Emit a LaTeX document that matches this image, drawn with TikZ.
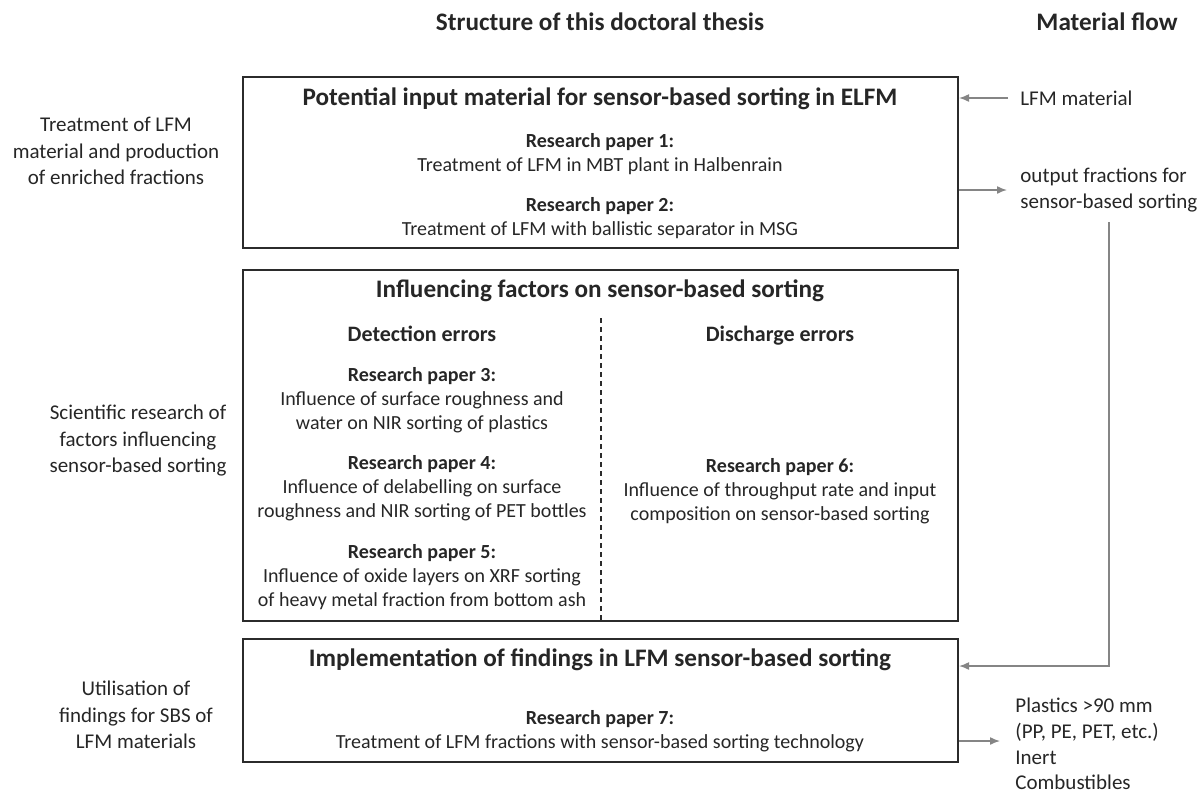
\documentclass[tikz,border=0pt]{standalone}
\usepackage{fontspec}
\setmainfont{Carlito}
\usepackage{tikz}
\usetikzlibrary{arrows.meta,positioning}
\definecolor{ink}{HTML}{262626}
\definecolor{frame}{HTML}{2B2B2B}
\definecolor{flowgray}{HTML}{858585}
\newcommand{\rp}[1]{\textbf{Research paper #1:}}

\begin{document}
\begin{tikzpicture}[x=0.5pt,y=-0.5pt,text=ink,
  stage/.style={draw=frame,line width=1pt,minimum width=357.5pt,inner sep=0pt},
  ttl/.style={font=\bfseries\fontsize{12.6}{15}\selectfont,inner sep=0pt,
              text height=.75em,text depth=.22em},
  sub/.style={font=\bfseries\fontsize{11}{13}\selectfont,inner sep=0pt,
              text height=.75em,text depth=.22em},
  paper/.style={font=\fontsize{10}{12}\selectfont,align=center,inner sep=0pt},
  side/.style={font=\fontsize{10.5}{13.25}\selectfont,align=center,inner sep=0pt},
  mat/.style={font=\fontsize{10.5}{12.9}\selectfont,align=left,anchor=west,inner sep=0pt},
  flow/.style={-{Latex[length=5pt,width=4pt]},flowgray,line width=0.75pt}]
  \useasboundingbox (0,0) rectangle (1204,793);
  \node[ttl] (thesis) at (600,25) {Structure of this doctoral thesis};
  \node[ttl] (mflow) at (1107,25) {Material flow};
  % the three stages
  \node[stage,minimum height=85.5pt] (inp) at (600.5,162.5) {};
  \node[stage,minimum height=175.5pt] (fac) at (600.5,445.5) {};
  \node[stage,minimum height=61.5pt] (impl) at (600.5,700.5) {};
  \node[ttl] (inptitle) at (600,100) {Potential input material for sensor-based sorting in ELFM};
  \node[paper] (rp1) at (600,154) {\rp{1}\\Treatment of LFM in MBT plant in Halbenrain};
  \node[paper] (rp2) at (600,218.5) {\rp{2}\\Treatment of LFM with ballistic separator in MSG};
  \node[ttl] (factitle) at (600,292) {Influencing factors on sensor-based sorting};
  \node[sub] (det) at (422,336) {Detection errors};
  \node[sub] (dis) at (780,336) {Discharge errors};
  \node[paper] (rp3) at (422,400.5) {\rp{3}\\Influence of surface roughness and\\water on NIR sorting of plastics};
  \node[paper] (rp4) at (422,487.7) {\rp{4}\\Influence of delabelling on surface\\roughness and NIR sorting of PET bottles};
  \node[paper] (rp5) at (422,576.7) {\rp{5}\\Influence of oxide layers on XRF sorting\\of heavy metal fraction from bottom ash};
  \node[paper] (rp6) at (780,490.7) {\rp{6}\\Influence of throughput rate and input\\composition on sensor-based sorting};
  \coordinate (dtop) at (601,318);
  \draw[frame,line width=0.75pt,dash pattern=on 2.5pt off 2pt] (dtop) -- (dtop |- fac.south);
  \node[ttl] (impltitle) at (600,661) {Implementation of findings in LFM sensor-based sorting};
  \node[paper] (rp7) at (600,731.5) {\rp{7}\\Treatment of LFM fractions with sensor-based sorting technology};
  % left column
  \node[side] (lab1) at (116,151) {Treatment of LFM\\material and production\\of enriched fractions};
  \node[side] (lab2) at (138,441) {Scientific research of\\factors influencing\\sensor-based sorting};
  \node[side] (lab3) at (136,715) {Utilisation of\\findings for SBS of\\LFM materials};
  % material flow
  \node[mat] (lfm) at (1020,98) {LFM material};
  \node[mat] (outp) at (1020,190) {output fractions for\\sensor-based sorting};
  \node[mat] (res) at (1015,744) {Plastics >90 mm\\(PP, PE, PET, etc.)\\Inert\\Combustibles};
  \draw[flow] ([xshift=-6pt]lfm.west) -- (lfm.west -| inp.east);
  \draw[flow] (outp.west -| inp.east) -- ([xshift=-6.5pt]outp.west);
  \draw[flow] ([yshift=-5pt]outp.south) |- ([yshift=17.25pt]impl.east);
  \draw[flow] ([yshift=1.5pt]res.west -| impl.east) -- ([xshift=-7.5pt,yshift=1.5pt]res.west);
\end{tikzpicture}
\end{document}
